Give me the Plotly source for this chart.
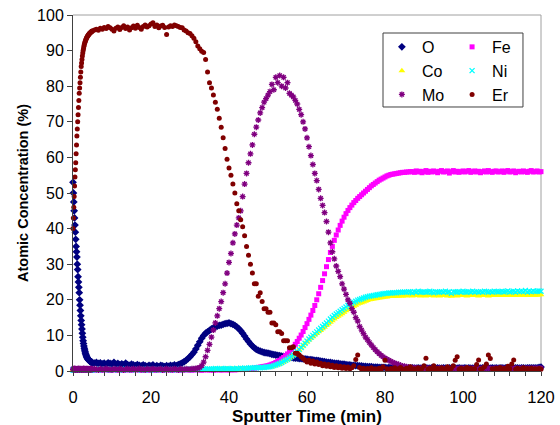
import numpy as np
import plotly.graph_objects as go

# Sputter time grid (min): 0.1-min steps for the first 5 min, then 0.5-min steps
time = np.round(np.concatenate([np.arange(0, 5, 0.1), np.arange(5, 120.001, 0.5)]), 2)

series_names = ["O", "Fe", "Co", "Ni", "Mo", "Er"]

O = [
    # 0.0-4.9
    53, 50, 47.5, 45, 43, 41, 39, 37, 35, 33.5,
    32, 30, 28.5, 26.5, 25, 23.5, 22, 20, 18.5, 17,
    15.5, 14.2, 13, 11.8, 10.6, 9.5, 8.5, 7.7, 7, 6.4,
    5.9, 5.4, 5, 4.6, 4.3, 4, 3.8, 3.6, 3.4, 3.2,
    3.1, 3, 2.9, 2.8, 2.7, 2.6, 2.6, 2.5, 2.5, 2.4,
    # 5-29.5
    2.3, 2.2, 2.4, 2.1, 2.3, 2, 2.2, 1.9, 2.3, 2.1,
    2, 2.4, 1.9, 2.1, 1.8, 2, 1.7, 2.2, 1.8, 1.6,
    1.9, 1.7, 1.5, 1.8, 1.6, 1.4, 1.7, 1.5, 1.3, 1.6,
    1.4, 1.7, 1.3, 1.5, 1.2, 1.6, 1.4, 1.2, 1.5, 1.3,
    1.6, 1.4, 1.7, 1.5, 1.8, 2, 2.3, 2.6, 3, 3.5,
    # 30-39.5
    4, 4.6, 5.3, 6.2, 7.2, 8.2, 9.2, 10, 10.6, 11,
    11.4, 11.8, 12.1, 12.4, 12.6, 12.8, 12.9, 13.1, 13.3, 13.4,
    # 40-59.5
    13.5, 13.3, 13.1, 12.8, 12.4, 11.9, 11.3, 10.6, 9.8, 9,
    8.3, 7.6, 7, 6.5, 6.1, 5.8, 5.6, 5.4, 5.2, 5.1,
    5, 4.9, 4.7, 4.6, 4.5, 4.4, 4.3, 4.2, 4.1, 4,
    3.9, 3.8, 3.8, 3.7, 3.6, 3.6, 3.5, 3.5, 3.4, 3.4,
    # 60-120
    3.3, 3.2, 3.2, 3.1, 3, 3, 2.9, 2.8, 2.7, 2.6,
    2.5, 2.4, 2.4, 2.3, 2.2, 2.1, 2.1, 2, 1.9, 1.9,
    1.8, 1.7, 1.7, 1.6, 1.6, 1.5, 1.5, 1.4, 1.4, 1.3,
    1.3, 1.2, 1.2, 1.2, 1.1, 1.1, 1.1, 1, 1, 1,
    1, 0.9, 1, 0.9, 1, 0.9, 0.9, 1, 0.9, 0.8,
    0.9, 0.8, 0.9, 0.8, 0.9, 0.8, 0.8, 0.9, 0.8, 0.8,
    0.8, 0.9, 0.8, 0.8, 0.9, 0.8, 0.8, 0.9, 0.8, 0.8,
    0.9, 0.8, 0.8, 0.9, 0.8, 0.9, 0.8, 0.8, 0.9, 0.8,
    0.8, 0.9, 0.8, 0.9, 0.8, 0.8, 0.9, 0.8, 0.9, 0.8,
    0.9, 0.8, 0.8, 0.9, 0.8, 0.9, 0.8, 0.9, 0.8, 0.9,
    0.9, 0.8, 0.9, 0.8, 0.9, 0.9, 0.8, 0.9, 0.9, 0.8,
    0.9, 0.9, 0.8, 0.9, 0.9, 0.9, 0.9, 0.9, 0.9, 1,
    1.1,
]

Fe = [
    # 0.0-4.9
    0.5, 0.3, 0.4, 0.2, 0.3, 0.4, 0.3, 0.2, 0.3, 0.4,
    0.3, 0.2, 0.3, 0.3, 0.4, 0.2, 0.3, 0.3, 0.2, 0.4,
    0.3, 0.3, 0.2, 0.3, 0.4, 0.3, 0.2, 0.3, 0.3, 0.2,
    0.4, 0.3, 0.3, 0.2, 0.3, 0.3, 0.4, 0.2, 0.3, 0.3,
    0.2, 0.3, 0.4, 0.3, 0.2, 0.3, 0.3, 0.2, 0.4, 0.3,
    # 5-29.5
    0.3, 0.2, 0.4, 0.3, 0.3, 0.2, 0.3, 0.4, 0.3, 0.2,
    0.3, 0.3, 0.4, 0.2, 0.3, 0.3, 0.2, 0.4, 0.3, 0.3,
    0.2, 0.3, 0.4, 0.3, 0.3, 0.2, 0.3, 0.3, 0.4, 0.2,
    0.3, 0.3, 0.2, 0.4, 0.3, 0.3, 0.2, 0.3, 0.4, 0.3,
    0.3, 0.2, 0.3, 0.4, 0.3, 0.2, 0.3, 0.3, 0.4, 0.3,
    # 30-39.5
    0.3, 0.2, 0.3, 0.4, 0.3, 0.3, 0.2, 0.3, 0.4, 0.3,
    0.3, 0.3, 0.2, 0.3, 0.4, 0.3, 0.3, 0.3, 0.4, 0.3,
    # 40-59.5
    0.3, 0.3, 0.4, 0.3, 0.4, 0.4, 0.5, 0.4, 0.5, 0.5,
    0.6, 0.6, 0.7, 0.8, 0.9, 1, 1.1, 1.2, 1.3, 1.4,
    1.5, 1.7, 1.9, 2.1, 2.4, 2.7, 3, 3.4, 3.8, 4.3,
    4.8, 5.4, 6, 6.7, 7.5, 8.3, 9.2, 10.1, 11.1, 12.2,
    # 60-120
    13.3, 14.5, 15.7, 17, 18.4, 20, 21.7, 23.5, 25.4, 27.3,
    29.3, 31.3, 33.3, 35, 36.7, 38.2, 39.6, 40.9, 42.1, 43.2,
    44.2, 45.1, 45.9, 46.6, 47.3, 47.9, 48.5, 49, 49.5, 50,
    50.5, 51, 51.5, 52, 52.4, 52.8, 53.2, 53.6, 53.9, 54.2,
    54.5, 54.8, 55, 55.2, 55.3, 55.4, 55.5, 55.6, 55.7, 55.8,
    55.8, 55.9, 55.9, 56, 56, 55.8, 56.2, 55.9, 56.1, 55.7,
    56, 56.3, 55.8, 56.1, 55.9, 56.2, 56, 55.7, 56.1, 56.3,
    55.9, 56, 56.2, 55.6, 56, 56.3, 55.9, 56.1, 55.8, 56,
    56.2, 55.9, 56.1, 56.3, 55.8, 56, 56.2, 55.9, 56.1, 55.7,
    56, 56.2, 55.9, 56.3, 56, 55.8, 56.1, 56.2, 55.9, 56,
    56.2, 55.8, 56.1, 56.3, 55.9, 56, 56.2, 55.7, 56, 56.1,
    55.9, 56.2, 56, 55.8, 56.1, 56.3, 55.9, 56, 56.2, 55.9,
    56,
]

Co = [
    # 0.0-4.9
    0.4, 0.3, 0.2, 0.3, 0.4, 0.3, 0.2, 0.3, 0.3, 0.4,
    0.2, 0.3, 0.3, 0.4, 0.2, 0.3, 0.4, 0.3, 0.2, 0.3,
    0.3, 0.4, 0.2, 0.3, 0.3, 0.2, 0.4, 0.3, 0.3, 0.2,
    0.3, 0.4, 0.3, 0.2, 0.3, 0.3, 0.2, 0.4, 0.3, 0.3,
    0.3, 0.2, 0.3, 0.4, 0.3, 0.3, 0.2, 0.3, 0.4, 0.3,
    # 5-29.5
    0.3, 0.4, 0.2, 0.3, 0.3, 0.4, 0.3, 0.2, 0.3, 0.4,
    0.3, 0.2, 0.3, 0.3, 0.4, 0.3, 0.3, 0.2, 0.4, 0.3,
    0.3, 0.3, 0.2, 0.4, 0.3, 0.3, 0.4, 0.2, 0.3, 0.3,
    0.4, 0.3, 0.3, 0.2, 0.3, 0.4, 0.3, 0.3, 0.2, 0.3,
    0.3, 0.4, 0.3, 0.2, 0.3, 0.3, 0.4, 0.3, 0.3, 0.3,
    # 30-39.5
    0.3, 0.4, 0.3, 0.4, 0.3, 0.4, 0.4, 0.5, 0.4, 0.5,
    0.5, 0.4, 0.5, 0.6, 0.5, 0.4, 0.6, 0.5, 0.5, 0.6,
    # 40-59.5
    0.5, 0.4, 0.6, 0.5, 0.6, 0.5, 0.7, 0.6, 0.7, 0.6,
    0.7, 0.8, 0.7, 0.8, 0.8, 0.9, 0.8, 0.9, 0.9, 1,
    1, 1.1, 1.2, 1.4, 1.6, 1.8, 2, 2.3, 2.6, 2.9,
    3.2, 3.6, 4, 4.4, 4.9, 5.4, 5.9, 6.5, 7.1, 7.7,
    # 60-120
    8.2, 8.7, 9.2, 9.6, 10.1, 10.5, 11, 11.4, 11.9, 12.3,
    12.8, 13.2, 13.7, 14.1, 14.6, 15, 15.4, 15.7, 16.1, 16.5,
    16.9, 17.3, 17.6, 17.9, 18.2, 18.5, 18.8, 19, 19.2, 19.4,
    19.6, 19.8, 20, 20.1, 20.2, 20.3, 20.4, 20.5, 20.6, 20.7,
    20.8, 20.8, 20.9, 20.9, 21, 21, 21, 21.1, 21.1, 21.1,
    21.2, 21.1, 21.3, 21.2, 21.1, 21.3, 21.2, 21.3, 21.1, 21.2,
    21.3, 21.1, 21.2, 21.3, 21.2, 21.1, 21.3, 21.2, 21.1, 21.3,
    21.2, 21.3, 21.1, 21.2, 21, 21.3, 21.2, 21.1, 21.3, 21.2,
    21.3, 21.2, 21.1, 21.3, 21.2, 21.3, 21.2, 21.3, 21.1, 21.3,
    21.2, 21.3, 21.3, 21.1, 21.3, 21.2, 21.3, 21.3, 21.2, 21.3,
    21.3, 21.2, 21.3, 21.4, 21.2, 21.3, 21.3, 21.2, 21.4, 21.3,
    21.3, 21.3, 21.4, 21.2, 21.3, 21.3, 21.4, 21.3, 21.3, 21.4,
    21.4,
]

Ni = [
    # 0.0-4.9
    0.3, 0.4, 0.3, 0.5, 0.3, 0.4, 0.4, 0.3, 0.5, 0.4,
    0.3, 0.4, 0.5, 0.3, 0.4, 0.4, 0.3, 0.5, 0.4, 0.3,
    0.4, 0.3, 0.4, 0.5, 0.3, 0.4, 0.4, 0.3, 0.4, 0.5,
    0.3, 0.4, 0.4, 0.5, 0.3, 0.4, 0.3, 0.4, 0.5, 0.4,
    0.4, 0.3, 0.5, 0.4, 0.3, 0.4, 0.4, 0.5, 0.3, 0.4,
    # 5-29.5
    0.4, 0.3, 0.5, 0.4, 0.4, 0.3, 0.4, 0.5, 0.4, 0.3,
    0.4, 0.4, 0.5, 0.3, 0.4, 0.4, 0.3, 0.5, 0.4, 0.4,
    0.3, 0.4, 0.5, 0.4, 0.4, 0.3, 0.4, 0.4, 0.5, 0.3,
    0.4, 0.4, 0.3, 0.5, 0.4, 0.4, 0.3, 0.4, 0.5, 0.4,
    0.4, 0.3, 0.4, 0.5, 0.4, 0.3, 0.4, 0.4, 0.5, 0.4,
    # 30-39.5
    0.4, 0.5, 0.4, 0.5, 0.4, 0.5, 0.5, 0.6, 0.5, 0.6,
    0.6, 0.5, 0.6, 0.7, 0.6, 0.5, 0.7, 0.6, 0.6, 0.7,
    # 40-59.5
    0.6, 0.5, 0.7, 0.6, 0.7, 0.6, 0.8, 0.7, 0.8, 0.7,
    0.8, 0.9, 0.8, 0.9, 0.9, 1, 0.9, 1, 1, 1.1,
    1.1, 1.2, 1.3, 1.5, 1.7, 1.9, 2.1, 2.4, 2.7, 3,
    3.3, 3.7, 4.1, 4.5, 5, 5.5, 6, 6.6, 7.2, 7.8,
    # 60-120
    8.4, 9, 9.5, 10, 10.5, 11, 11.5, 12, 12.5, 13,
    13.5, 14, 14.6, 15.1, 15.6, 16, 16.4, 16.8, 17.2, 17.6,
    18, 18.4, 18.7, 19, 19.3, 19.6, 19.9, 20.1, 20.3, 20.5,
    20.7, 20.9, 21, 21.1, 21.2, 21.3, 21.4, 21.5, 21.6, 21.7,
    21.8, 21.8, 21.9, 21.9, 22, 22, 22, 22.1, 22.1, 22.1,
    22.2, 22.1, 22.3, 22.2, 22, 22.3, 22.2, 22.4, 22.1, 22.2,
    22.3, 22.1, 22.2, 22.4, 22.2, 22, 22.3, 22.2, 22.1, 22.3,
    22.2, 22.4, 22.1, 22.2, 21.8, 22.3, 22.2, 22.1, 22.3, 22.2,
    22.4, 22.2, 22.1, 22.3, 22.2, 22.4, 22.2, 22.3, 22.1, 22.3,
    22.2, 22.4, 22.3, 22.1, 22.3, 22.2, 22.4, 22.3, 22.2, 22.3,
    22.4, 22.2, 22.3, 22.5, 22.2, 22.3, 22.4, 22.2, 22.5, 22.3,
    22.4, 22.3, 22.6, 22.2, 22.4, 22.3, 22.5, 22.3, 22.4, 22.5,
    22.4,
]

Mo = [
    # 0.0-4.9
    0.4, 0.6, 0.3, 0.5, 0.7, 0.4, 0.3, 0.6, 0.5, 0.4,
    0.5, 0.3, 0.6, 0.4, 0.5, 0.7, 0.4, 0.3, 0.5, 0.6,
    0.4, 0.5, 0.3, 0.6, 0.4, 0.5, 0.4, 0.7, 0.3, 0.5,
    0.6, 0.4, 0.5, 0.3, 0.6, 0.4, 0.5, 0.6, 0.4, 0.3,
    0.5, 0.6, 0.4, 0.5, 0.3, 0.6, 0.5, 0.4, 0.6, 0.5,
    # 5-29.5
    0.4, 0.6, 0.5, 0.3, 0.6, 0.4, 0.5, 0.7, 0.4, 0.5,
    0.3, 0.6, 0.5, 0.4, 0.6, 0.5, 0.3, 0.5, 0.6, 0.4,
    0.5, 0.6, 0.4, 0.5, 0.7, 0.4, 0.5, 0.3, 0.6, 0.5,
    0.4, 0.6, 0.5, 0.4, 0.5, 0.6, 0.3, 0.5, 0.6, 0.4,
    0.5, 0.4, 0.6, 0.5, 0.3, 0.6, 0.5, 0.4, 0.6, 0.5,
    # 30-39.5
    0.5, 0.6, 0.6, 0.7, 0.8, 1, 1.5, 2.5, 4, 5.8,
    7.5, 9.5, 11.5, 13.5, 15.5, 17.5, 19.5, 22, 24.5, 27.5,
    # 40-59.5
    30.5, 33, 36, 38.5, 41, 43, 45, 49, 52.5, 55.5,
    58.5, 61, 63.5, 66.5, 68.5, 70.5, 72.5, 74, 75.5, 76.5,
    77.5, 78.5, 80.5, 79, 82.5, 81, 83, 80, 82.5, 79.5,
    81, 78, 77.5, 77, 76, 75, 73.5, 72, 70, 68,
    # 60-120
    65.5, 63, 60.5, 58, 55.5, 53.5, 51, 48.5, 46.5, 44.5,
    42, 39, 36, 33.5, 31.5, 29.5, 28, 26.5, 24.5, 23,
    21.5, 20, 19, 17.5, 16.5, 15, 14, 12.5, 11.5, 10.5,
    9.5, 8.8, 8, 7.3, 6.6, 6, 5.4, 4.9, 4.4, 4,
    3.6, 3.3, 3, 2.7, 2.4, 2.2, 2, 1.8, 1.6, 1.4,
    1.3, 1.2, 1.1, 1, 0.9, 0.9, 0.8, 0.8, 0.7, 0.8,
    0.7, 0.6, 0.8, 0.7, 0.7, 0.8, 0.6, 0.7, 0.8, 0.7,
    0.7, 0.6, 0.8, 0.7, 0.7, 0.8, 0.7, 0.6, 0.7, 0.8,
    0.7, 0.7, 0.6, 0.8, 0.7, 0.7, 0.8, 0.7, 0.7, 0.6,
    0.8, 0.7, 0.7, 0.8, 0.7, 0.6, 0.7, 0.8, 0.7, 0.7,
    0.8, 0.7, 0.6, 0.7, 0.8, 0.7, 0.7, 0.8, 0.7, 0.7,
    0.8, 0.7, 0.7, 0.8, 0.7, 0.8, 0.7, 0.8, 0.7, 0.8,
    0.8,
]

Er = [
    # 0.0-4.9
    40, 43, 46, 49, 52, 54.5, 56.5, 58.5, 61, 63.5,
    66, 68, 70, 72, 74, 76, 78, 79.5, 81, 82.5,
    84, 85.5, 86.5, 87.5, 88.5, 89.3, 90, 90.6, 91.2, 91.7,
    92.1, 92.5, 92.8, 93.1, 93.3, 93.6, 93.8, 94, 94.2, 94.3,
    94.5, 94.6, 94.8, 94.9, 95, 95.1, 95.2, 95.3, 95.4, 95.5,
    # 5-29.5
    95.5, 95.8, 96, 95.7, 96.3, 96, 96.5, 96.2, 96.8, 96.4,
    96, 95.5, 96.3, 96.6, 95.9, 96.5, 97, 96.2, 96.6, 95.8,
    96.4, 96.9, 96.3, 97.1, 96.5, 96, 96.8, 97.2, 96.6, 97,
    97.5, 97.8, 96.8, 97.2, 96.4, 96.9, 97.1, 96.5, 94.5, 96.6,
    97, 96.8, 97.2, 97, 96.8, 96.5, 96.4, 95.8, 95.5, 95,
    # 30-39.5
    94.8, 94.2, 93.5, 92.5, 91.3, 90.5, 89.8, 89.5, 87.5, 84,
    81, 79.5, 77.5, 75.5, 73.5, 71, 68.5, 65.5, 62.5, 59.5,
    # 40-59.5
    57, 55, 52.5, 50, 47, 45, 42.5, 40.5, 38, 35,
    32.5, 30, 27.5, 24.5, 24.5, 21, 22, 19.5, 17.5, 17.5,
    16.5, 16.5, 13.5, 13.5, 13, 11, 11, 10.5, 8.5, 8.5,
    8.5, 6.5, 6.5, 6.8, 5, 5, 4.5, 4, 3.5, 3,
    # 60-120
    2.5, 3, 2.2, 2.8, 2, 2.5, 1.8, 2.2, 1.5, 2,
    1.3, 1.8, 1.2, 1.6, 1, 1.5, 0.9, 1.3, 0.8, 1.2,
    0.7, 1.1, 0.6, 0.9, 1.5, 3.2, 4.5, 1, 0.5, 0.8,
    0.4, 0.7, 0.5, 0.9, 0.4, 0.6, 0.5, 0.8, 0.4, 1.2,
    3, 0.6, 0.4, 0.7, 0.5, 0.9, 0.4, 0.6, 1, 0.5,
    0.4, 0.8, 0.5, 1.2, 0.4, 0.6, 0.5, 0.9, 0.4, 0.7,
    1.5, 3.6, 0.5, 0.8, 0.4, 1.5, 0.5, 0.7, 0.4, 0.9,
    0.5, 0.6, 1.2, 0.4, 0.7, 1.5, 3, 4, 0.5, 0.8,
    0.4, 0.6, 1, 0.5, 0.8, 0.4, 0.6, 1.8, 3.1, 0.5,
    0.7, 1.2, 2, 4.5, 3.5, 0.6, 0.4, 0.8, 0.5, 1,
    0.4, 0.7, 0.5, 1.3, 0.6, 2, 3.1, 0.5, 0.8, 0.4,
    0.6, 0.9, 0.4, 0.7, 0.5, 0.8, 0.4, 0.6, 0.5, 0.7,
    0.5,
]

x_ticks = [0, 20, 40, 60, 80, 100, 120]
y_ticks = [0, 10, 20, 30, 40, 50, 60, 70, 80, 90, 100]

values = {"O": O, "Fe": Fe, "Co": Co, "Ni": Ni, "Mo": Mo, "Er": Er}
styles = {
    "O":  dict(symbol="diamond", color="#000080", size=6, legend="legend"),
    "Fe": dict(symbol="square", color="#FF00FF", size=5, legend="legend2"),
    "Co": dict(symbol="triangle-up", color="#FFFF00", size=6, legend="legend"),
    "Ni": dict(symbol="x-thin", color="#00FFFF", size=5, legend="legend2"),
    "Mo": dict(symbol="asterisk", color="#800080", size=5, legend="legend"),
    "Er": dict(symbol="circle", color="#800000", size=5, legend="legend2"),
}

FONT = "Arial, Liberation Sans, sans-serif"

fig = go.Figure()
for name in series_names:
    st = styles[name]
    open_sym = st["symbol"] in ("x-thin", "asterisk")
    fig.add_trace(go.Scatter(
        x=time, y=values[name], mode="markers", name=name,
        legend=st["legend"], cliponaxis=False,
        marker=dict(symbol=st["symbol"], size=st["size"], color=st["color"],
                    line=dict(width=1.3 if open_sym else 0, color=st["color"])),
    ))

fig.update_layout(
    width=560, height=425,
    margin=dict(l=73, r=19, t=15, b=54, autoexpand=False),
    paper_bgcolor="white", plot_bgcolor="white",
    font=dict(family=FONT, color="black", size=16),
    xaxis=dict(range=[0, 120], tickvals=x_ticks, ticks="outside", ticklen=4,
               tickcolor="#404040", showline=True, linecolor="#404040", linewidth=1,
               showgrid=False, zeroline=False, tickfont=dict(size=16.5),
               ticklabelstandoff=7, automargin=False,
               minor=dict(dtick=4, ticks="outside", ticklen=4, tickcolor="#404040")),
    yaxis=dict(range=[0, 100], tickvals=y_ticks, ticks="outside", ticklen=5,
               tickcolor="#404040", showline=True, linecolor="#404040", linewidth=1,
               showgrid=False, zeroline=False, tickfont=dict(size=16), automargin=False,
               title=dict(text="<b>Atomic Concentration (%)</b>", font=dict(size=14.5), standoff=5)),
    legend=dict(x=0.660, y=0.958, xanchor="left", yanchor="top",
                bgcolor="rgba(0,0,0,0)", borderwidth=0, font=dict(size=16)),
    legend2=dict(x=0.810, y=0.958, xanchor="left", yanchor="top",
                 bgcolor="rgba(0,0,0,0)", borderwidth=0, font=dict(size=16)),
    annotations=[
        dict(text="<b>Sputter Time (min)</b>", xref="paper", yref="paper",
             x=0.5, y=-0.127, xanchor="center", yanchor="middle",
             showarrow=False, font=dict(size=17, family=FONT, color="black")),
    ],
    shapes=[
        dict(type="line", xref="paper", yref="paper", x0=0, x1=1, y0=1, y1=1,
             line=dict(color="#a0a0a0", width=1), layer="below"),
        dict(type="line", xref="paper", yref="paper", x0=1, x1=1, y0=0, y1=1,
             line=dict(color="#a0a0a0", width=1), layer="below"),
        dict(type="rect", xref="paper", yref="paper", x0=0.6624, x1=0.9615,
             y0=0.7416, y1=0.9494, line=dict(color="#404040", width=1),
             fillcolor="white", layer="below"),
    ],
)

fig.write_html("out.html")
